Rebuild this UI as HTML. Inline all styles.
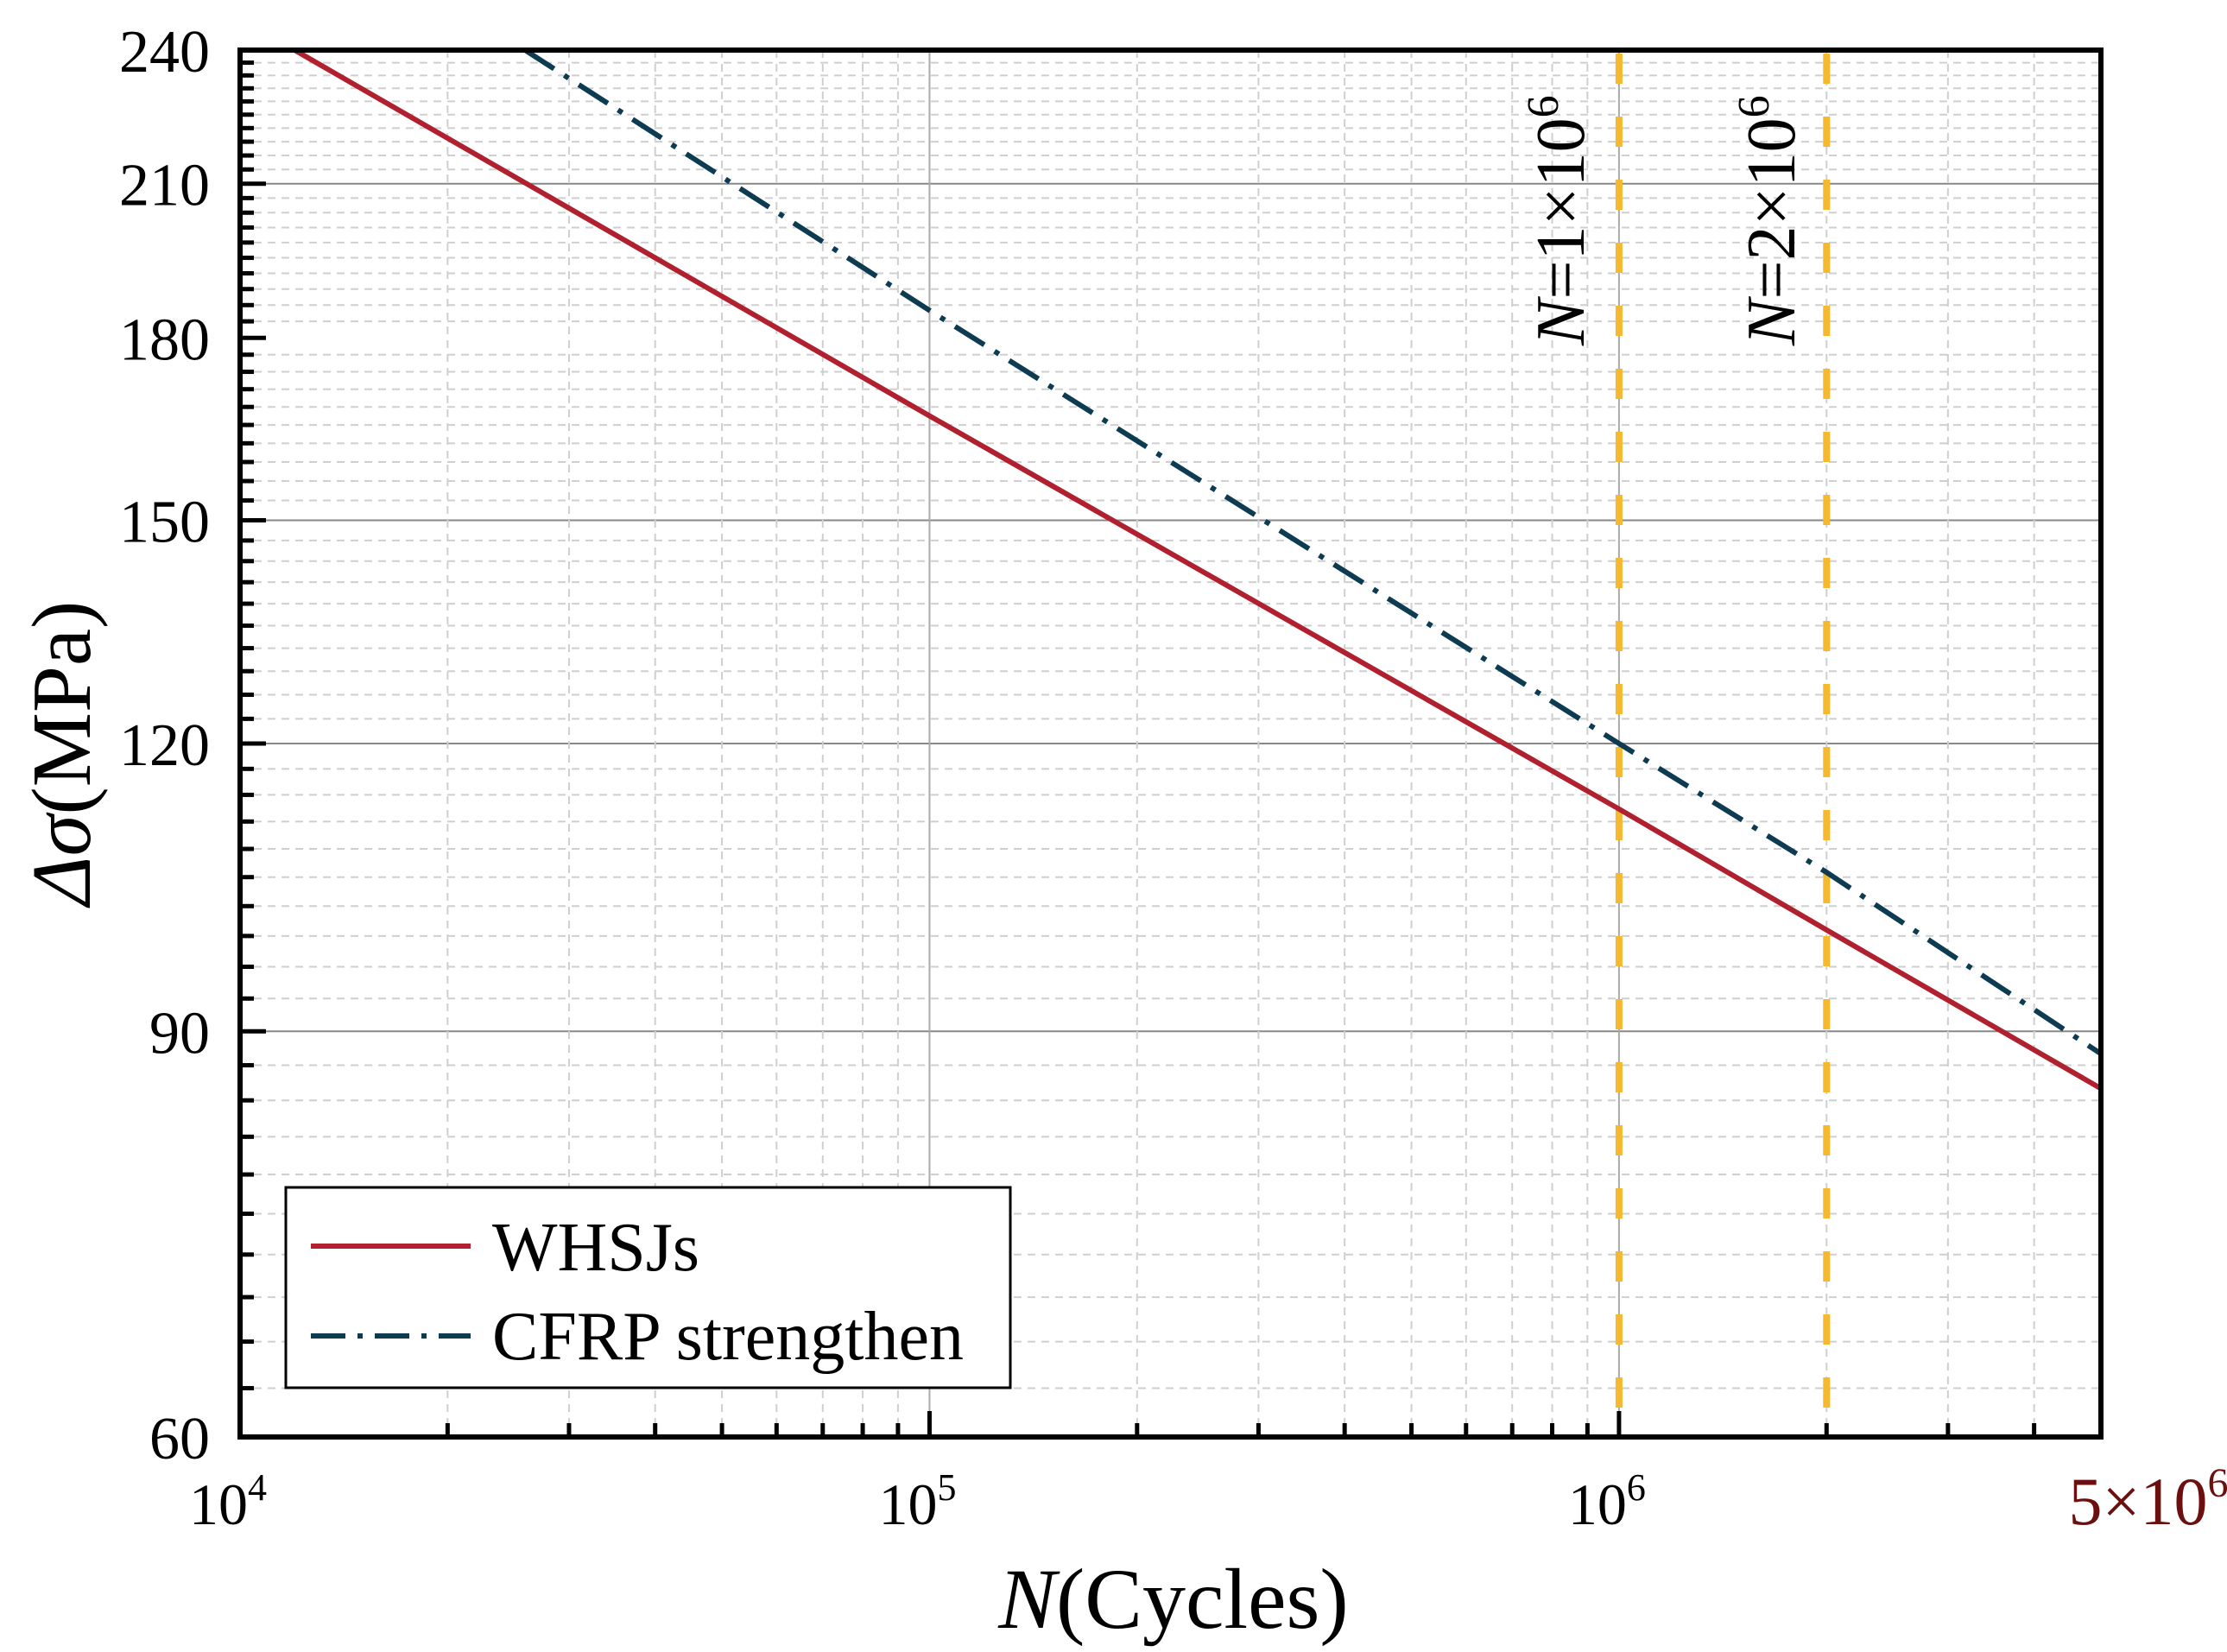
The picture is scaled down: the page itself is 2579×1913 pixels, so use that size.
<!DOCTYPE html>
<html><head><meta charset="utf-8"><style>
html,body{margin:0;padding:0;background:#fff;}
svg{display:block;font-family:"Liberation Serif",serif;}
</style></head><body>
<svg id="chart" width="2579" height="1913" viewBox="0 0 2579 1913" xmlns="http://www.w3.org/2000/svg">
<g id="grid"></g>
<g id="ref"></g>
<g id="series"></g>
<g id="axes"></g>
<text transform="translate(1834,400) rotate(-90)" font-size="80" fill="#000"><tspan font-style="italic">N</tspan>=1×10<tspan dy="-30" font-size="52">6</tspan></text>
<text transform="translate(2078,400) rotate(-90)" font-size="80" fill="#000"><tspan font-style="italic">N</tspan>=2×10<tspan dy="-30" font-size="52">6</tspan></text>
<g>
<rect x="331" y="1375" width="839" height="232" fill="#fff" stroke="#000" stroke-width="3"/>
<line x1="360" y1="1443" x2="545" y2="1443" stroke="#b0202e" stroke-width="6"/>
<text x="570" y="1471" font-size="80">WHSJs</text>
<line x1="360" y1="1547" x2="545" y2="1547" stroke="#0d3b52" stroke-width="6" stroke-dasharray="40,14,6,14"/>
<text x="570" y="1574" font-size="80">CFRP strengthen</text>
</g>
<text x="1359" y="1885" font-size="100" text-anchor="middle"><tspan font-style="italic">N</tspan>(Cycles)</text>
<text transform="translate(104,872) rotate(-90)" font-size="97" text-anchor="middle"><tspan font-style="italic">Δσ</tspan>(MPa)</text>
</svg>
<script>
const xTickExps = [4, 5, 6];
const yTickLabels = [60, 90, 120, 150, 180, 210, 240];
const yGridSolid = [90, 120, 150, 210];
const whsjsN = [12000, 100000, 1000000, 2000000, 5000000];
const whsjsS = [240, 166.5, 112.4, 99.6, 85];
const cfrpN = [25900, 100000, 1000000, 2000000, 5000000];
const cfrpS = [240, 185, 120, 105.5, 88];
const refN = [1000000, 2000000];

const L=278,R=2433,T=58,B=1664;
const xMin=1e4,xMax=5e6,yMin=60,yMax=240;
const xs=v=>L+(Math.log10(v)-Math.log10(xMin))/(Math.log10(xMax)-Math.log10(xMin))*(R-L);
const ys=v=>B-(Math.log(v)-Math.log(yMin))/(Math.log(yMax)-Math.log(yMin))*(B-T);
const NS="http://www.w3.org/2000/svg";
function mk(tag,attrs,parent){const e=document.createElementNS(NS,tag);for(const k in attrs)e.setAttribute(k,attrs[k]);parent.appendChild(e);return e;}
const grid=document.getElementById('grid'),axes=document.getElementById('axes'),ser=document.getElementById('series'),refG=document.getElementById('ref');

for(let v=63;v<240;v+=3){
  if(yTickLabels.includes(v))continue;
  const y=ys(v);
  const g=mk('line',{x1:L,x2:R,y1:y,y2:y,stroke:'#cfcfcf','stroke-width':2,'stroke-dasharray':'9,7'},grid);
  
  
  const t=mk('line',{x1:L,x2:L+16,y1:y,y2:y,stroke:'#000','stroke-width':5},axes);
  
  
}
yGridSolid.forEach(v=>{
  const y=ys(v);
  const g=mk('line',{x1:L,x2:R,y1:y,y2:y,stroke:'#888','stroke-width':2},grid);
  
  
});
yTickLabels.forEach(v=>{
  const y=ys(v);
  const t=mk('line',{x1:L,x2:L+30,y1:y,y2:y,stroke:'#000','stroke-width':5},axes);
  
  
  const tx=mk('text',{x:243,y:y+25,'font-size':70,'text-anchor':'end'},axes);
  tx.textContent=v;
  
  
});
for(let e=4;e<=6;e++){
  for(let m=1;m<=9;m++){
    const v=m*Math.pow(10,e);
    if(v>xMax)break;
    const x=xs(v);
    if(m===1){
      if(e>4){const g=mk('line',{x1:x,x2:x,y1:T,y2:B,stroke:'#aaa','stroke-width':2},grid);
      
      }
      const t=mk('line',{x1:x,x2:x,y1:B,y2:B-30,stroke:'#000','stroke-width':5},axes);
      
      
    } else {
      const g=mk('line',{x1:x,x2:x,y1:T,y2:B,stroke:'#cfcfcf','stroke-width':2,'stroke-dasharray':'9,7'},grid);
      
      
      const t=mk('line',{x1:x,x2:x,y1:B,y2:B-16,stroke:'#000','stroke-width':5},axes);
      
      
    }
  }
}
xTickExps.forEach(e=>{
  const x=xs(Math.pow(10,e));
  const tx=mk('text',{x:x-14,y:1765,'font-size':68,'text-anchor':'middle'},axes);
  tx.innerHTML='10<tspan dy="-28" font-size="44">'+e+'</tspan>';
  
  
});
const t5=mk('text',{x:2488,y:1765,'font-size':78,'text-anchor':'middle',fill:'#6b0f0f'},axes);
t5.innerHTML='5×10<tspan dy="-32" font-size="48">6</tspan>';


refN.forEach(n=>{
  const x=xs(n);
  const l=mk('line',{x1:x,x2:x,y1:T,y2:B,stroke:'#f5b82e','stroke-width':8,'stroke-dasharray':'35,38','stroke-dashoffset':'-4'},refG);
  
  
});
function pts(N,S){return N.map((n,i)=>xs(n).toFixed(1)+','+ys(S[i]).toFixed(1)).join(' ');}
const p1=mk('polyline',{points:pts(whsjsN,whsjsS),fill:'none',stroke:'#b0202e','stroke-width':6},ser);


const p2=mk('polyline',{points:pts(cfrpN,cfrpS),fill:'none',stroke:'#0d3b52','stroke-width':6,'stroke-dasharray':'40,14,6,14'},ser);


const fr=mk('rect',{x:L,y:T,width:R-L,height:B-T,fill:'none',stroke:'#000','stroke-width':6},axes);


</script>
</body></html>
